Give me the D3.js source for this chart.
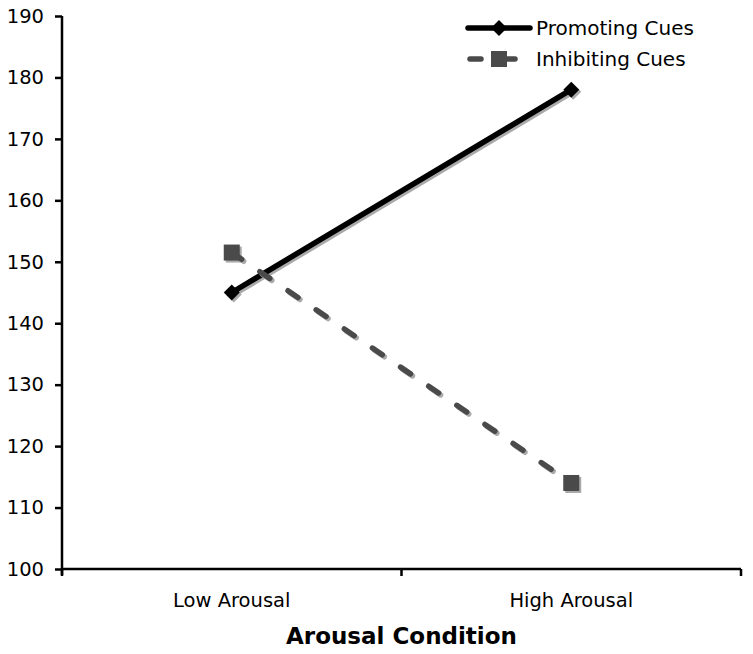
<!DOCTYPE html>
<html><head><meta charset="utf-8">
<script src="https://cdn.jsdelivr.net/npm/d3@7"></script>
<style>body{margin:0;background:#fff}svg{display:block}text{font-family:"DejaVu Sans",Verdana,sans-serif}</style>
</head><body><svg id="c" width="753" height="654"></svg>
<script>
const categories = ["Low Arousal", "High Arousal"];
const promoting = [145, 178];
const inhibiting = [151.5, 114];
const yTicks = [100, 110, 120, 130, 140, 150, 160, 170, 180, 190];
const seriesNames = ["Promoting Cues", "Inhibiting Cues"];

const svg = d3.select("#c");
const m = {l: 62, r: 12, t: 16, b: 85};
const W = 753, H = 654;
const x = d3.scaleBand().domain(categories).range([m.l, W - m.r]);
const y = d3.scaleLinear().domain([100, 190]).range([H - m.b, m.t]);

// axes
const ya = svg.append("g").attr("transform", `translate(${m.l},0)`)
  .call(d3.axisLeft(y).tickValues(yTicks).tickSize(7).tickPadding(11));
const xa = svg.append("g").attr("transform", `translate(0,${H - m.b})`)
  .call(d3.axisBottom(x).tickSize(0).tickPadding(24));
[ya, xa].forEach(g => {
  g.attr("font-size", 19.5).attr("font-family", "DejaVu Sans, Verdana, sans-serif");
  g.select(".domain").attr("stroke", "#000").attr("stroke-width", 2.5);
  g.selectAll("line").attr("stroke", "#000").attr("stroke-width", 2.5);
  g.selectAll("text").attr("fill", "#000");
});
ya.select(".domain").attr("d", `M0,${y(190)}V${y(100) + 6}`);
xa.select(".domain").attr("d", `M${m.l},0H${W - m.r}`);
// category boundary ticks
const bounds = [m.l, m.l + x.step(), W - m.r];
xa.selectAll(".bt").data(bounds).enter().append("line")
  .attr("x1", d => d).attr("x2", d => d).attr("y1", 0).attr("y2", 7)
  .attr("stroke", "#000").attr("stroke-width", 2.5);

svg.append("text").attr("x", (m.l + W - m.r) / 2).attr("y", 644)
  .attr("text-anchor", "middle").attr("font-size", 23).attr("font-weight", "bold")
  .text("Arousal Condition");

const cx = c => x(c) + x.bandwidth() / 2;
const line = d3.line().x((d, i) => cx(categories[i])).y(d => y(d));

function drawSeries(vals, color, dash, marker, off, shadow) {
  const g = svg.append("g").attr("transform", `translate(${off},${off})`);
  const col = shadow ? "#aaa" : color;
  g.append("path").attr("d", line(vals)).attr("fill", "none")
    .attr("stroke", col).attr("stroke-width", 5.5)
    .attr("stroke-linecap", "round")
    .attr("stroke-dasharray", dash || null);
  vals.forEach((v, i) => {
    const px = cx(categories[i]), py = y(v);
    if (marker === "diamond") {
      g.append("path").attr("d", `M${px},${py - 8}L${px + 8},${py}L${px},${py + 8}L${px - 8},${py}Z`).attr("fill", col);
    } else {
      g.append("rect").attr("x", px - 8).attr("y", py - 8).attr("width", 16).attr("height", 16).attr("fill", col);
    }
  });
}
drawSeries(promoting, "#000", null, "diamond", 2, true);
drawSeries(promoting, "#000", null, "diamond", 0, false);
drawSeries(inhibiting, "#4a4a4a", "12,22", "square", 2, true);
drawSeries(inhibiting, "#4a4a4a", "12,22", "square", 0, false);

// legend
const lg = svg.append("g");
const ly = [28, 59];
lg.append("line").attr("x1", 468).attr("x2", 530).attr("y1", ly[0]).attr("y2", ly[0])
  .attr("stroke", "#000").attr("stroke-width", 5.5).attr("stroke-linecap", "round");
lg.append("path").attr("d", `M499,${ly[0] - 8}L507,${ly[0]}L499,${ly[0] + 8}L491,${ly[0]}Z`).attr("fill", "#000");
lg.append("line").attr("x1", 470).attr("x2", 481).attr("y1", ly[1]).attr("y2", ly[1])
  .attr("stroke", "#4a4a4a").attr("stroke-width", 5.5).attr("stroke-linecap", "round");
lg.append("line").attr("x1", 505).attr("x2", 515).attr("y1", ly[1]).attr("y2", ly[1])
  .attr("stroke", "#4a4a4a").attr("stroke-width", 5.5).attr("stroke-linecap", "round");
lg.append("rect").attr("x", 491).attr("y", ly[1] - 8).attr("width", 16).attr("height", 16).attr("fill", "#4a4a4a");
seriesNames.forEach((n, i) => {
  lg.append("text").attr("x", 536).attr("y", ly[i]).attr("dy", "0.35em")
    .attr("font-size", 20).text(n);
});
</script></body></html>
